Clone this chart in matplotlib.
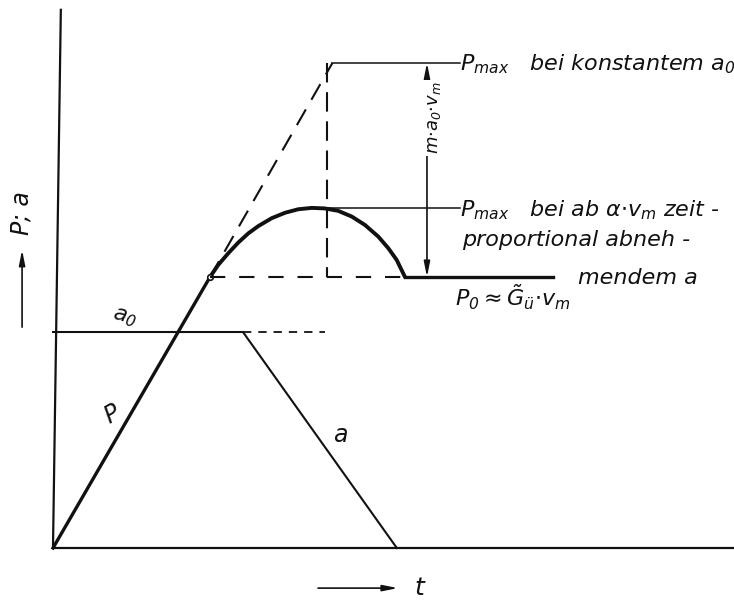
import matplotlib
matplotlib.use("Agg")
import matplotlib.pyplot as plt

# power / deceleration over time, P in units of P0, t in arbitrary time units
P_0 = 1.0
P_MAX_CONST = 1.79
A_0 = 0.797

t_rise = [0.0, 10.0]
p_rise = [0.0, P_0]

t_extension = [10.0, 17.8]
p_extension = [P_0, P_MAX_CONST]

# P with linearly decreasing deceleration after the knee
t_curve = [10.0, 10.53, 11.17, 11.80, 12.44, 13.08, 13.93, 14.78, 15.62,
           16.48, 17.32, 18.17, 19.03, 19.87, 20.72, 21.36, 21.89, 22.42]
p_curve = [1.0, 1.045, 1.088, 1.127, 1.161, 1.188, 1.217, 1.237, 1.250,
           1.255, 1.253, 1.244, 1.223, 1.192, 1.149, 1.106, 1.063, 1.0]
P_MAX_DEC = max(p_curve)
t_peak = t_curve[p_curve.index(P_MAX_DEC)]

t_knee = 10.0
t_vertical = 17.45
t_p0_end = 31.85

# deceleration a
t_a = [0.0, 12.1, 21.9]
a_vals = [A_0, A_0, 0.0]
t_a_dash_end = 17.3

t_dim = 23.82
t_label = 25.9
t_axis_end = 43.4
p_axis_top = 1.99
t_axis_top = 0.5

plt.rcParams["mathtext.fontset"] = "custom"
plt.rcParams["mathtext.rm"] = "DejaVu Sans:italic"
plt.rcParams["mathtext.it"] = "DejaVu Sans:italic"
plt.rcParams["mathtext.sf"] = "DejaVu Sans:italic"
plt.rcParams["lines.scale_dashes"] = False
plt.rcParams["font.family"] = "DejaVu Sans"
plt.rcParams["font.style"] = "italic"

ink = "#111111"

fig = plt.figure(figsize=(7.34, 6.08), dpi=100, facecolor="white")
ax = fig.add_axes([0, 0, 1, 1])
ax.axis("off")
ax.set_xlim(-53 / 15.7, 681 / 15.7)
ax.set_ylim(-60 / 271, 548 / 271)

# axes drawn by hand
ax.plot([0, t_axis_end], [0, 0], color=ink, lw=1.6, solid_capstyle="butt")
ax.plot([0, t_axis_top], [0, p_axis_top], color=ink, lw=1.6, solid_capstyle="butt")

# P: linear rise, its dashed extension, and the curved maximum
ax.plot(t_rise, p_rise, color=ink, lw=2.4)
ax.plot(t_extension, p_extension, color=ink, lw=1.5, dashes=(13, 8))
ax.plot(t_curve, p_curve, color=ink, lw=2.8, solid_capstyle="round",
        solid_joinstyle="round")
ax.plot([t_knee], [P_0], marker="o", ms=4, mfc="white", mec=ink, mew=1.2)

# P0 level: dashed under the curve, solid after it
ax.plot([t_knee, t_curve[-1]], [P_0, P_0], color=ink, lw=1.5, dashes=(11, 10))
ax.plot([t_curve[-1], t_p0_end], [P_0, P_0], color=ink, lw=2.4)
ax.plot([t_vertical, t_vertical], [P_MAX_CONST, P_0], color=ink, lw=1.5, dashes=(14, 7))

# leader lines to the labels
ax.plot([t_extension[-1], t_label], [P_MAX_CONST, P_MAX_CONST], color=ink, lw=1.1)
ax.plot([t_peak, t_label], [P_MAX_DEC, P_MAX_DEC], color=ink, lw=1.1)

# dimension m*a0*vm
ax.annotate("", xy=(t_dim, P_MAX_CONST), xytext=(t_dim, P_0),
            arrowprops=dict(arrowstyle="<|-|>,head_length=0.9,head_width=0.18",
                            color=ink, lw=1.2, shrinkA=0, shrinkB=0))
ax.text(t_dim + 0.45, 1.587, r"$m{\cdot}a_0{\cdot}v_m$", rotation=90, fontsize=13,
        ha="center", va="center", color=ink,
        bbox=dict(facecolor="white", edgecolor="none", pad=1))

# deceleration a
ax.plot(t_a, a_vals, color=ink, lw=1.5)
ax.plot([t_a[1], t_a_dash_end], [A_0, A_0], color=ink, lw=1.3, dashes=(6, 5))

# labels
ax.text(t_label, 1.764, r"$P_{max}\quad$bei konstantem $a_0$", fontsize=16, color=ink)
ax.text(t_label, 1.225, r"$P_{max}\quad$bei ab $\alpha{\cdot}v_m$ zeit -", fontsize=16, color=ink)
ax.text(26.05, 1.114, "proportional abneh -", fontsize=16, color=ink)
ax.text(33.44, 0.974, "mendem a", fontsize=16, color=ink)
ax.text(25.6, 0.893, r"$P_0\approx\tilde{G}_{\ddot{u}}{\cdot}v_m$", fontsize=16, color=ink)
ax.text(3.63, 0.823, r"$a_0$", fontsize=16, color=ink, rotation=-15)
ax.text(3.0, 0.461, "P", fontsize=17, color=ink, rotation=30)
ax.text(17.83, 0.391, "a", fontsize=17, color=ink)

# axis names with arrows
ax.annotate("", xy=(21.97, -0.148), xytext=(16.88, -0.148),
            arrowprops=dict(arrowstyle="-|>,head_length=0.9,head_width=0.18",
                            color=ink, lw=1.2, shrinkA=0, shrinkB=0))
ax.text(23.0, -0.148, "t", fontsize=18, color=ink, va="center")
ax.annotate("", xy=(-1.97, 1.10), xytext=(-1.97, 0.815),
            arrowprops=dict(arrowstyle="-|>,head_length=0.9,head_width=0.18",
                            color=ink, lw=1.2, shrinkA=0, shrinkB=0))
ax.text(-2.0, 1.236, "P; a", fontsize=17, color=ink, rotation=90,
        ha="center", va="center")

fig.savefig("out.png", dpi=100, facecolor="white")
